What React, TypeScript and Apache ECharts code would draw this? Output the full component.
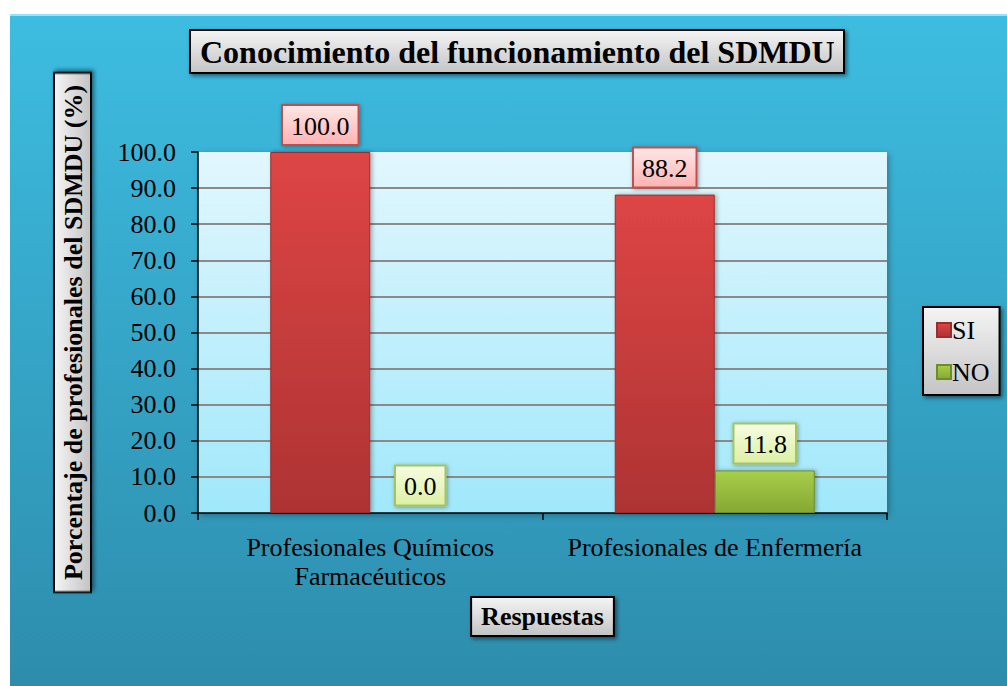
import React, { useEffect, useRef } from "react";
import * as echarts from "echarts";

const categories = ["Profesionales Químicos\nFarmacéuticos", "Profesionales de Enfermería"];
const seriesNames = ["SI", "NO"];
const siValues = [100.0, 88.2];
const noValues = [0.0, 11.8];
const yMin = 0;
const yMax = 100;
const yStep = 10;

const FONT = "Liberation Serif";

const lg = (c0: string, c1: string, horizontal = false) =>
  new echarts.graphic.LinearGradient(0, 0, horizontal ? 1 : 0, horizontal ? 0 : 1, [
    { offset: 0, color: c0 },
    { offset: 1, color: c1 },
  ]);

export default function App() {
  const ref = useRef<HTMLDivElement>(null);
  useEffect(() => {
    document.body.style.margin = "0";
    const chart = echarts.init(ref.current!, null, { renderer: "svg" });
    const grayBox = () => lg("#F4F4F4", "#C4C4C4");
    const splitColors = [] as string[];
    for (let v = yMin; v <= yMax; v += yStep) {
      splitColors.push(v === yMin || v === yMax ? "rgba(0,0,0,0)" : "#8A8A8A");
    }
    const labelCommon = {
      show: true,
      position: "top",
      distance: 8,
      fontFamily: FONT,
      fontSize: 26,
      color: "#000",
      padding: [7, 8, 5, 8],
      borderWidth: 2,
      shadowBlur: 4,
      shadowColor: "rgba(0,0,0,0.35)",
      shadowOffsetX: 1,
      shadowOffsetY: 1,
      formatter: (p: any) => Number(p.value).toFixed(1),
    };
    chart.setOption({
      animation: false,
      backgroundColor: "#ffffff",
      graphic: [
        {
          type: "rect",
          z: -10,
          shape: { x: 10, y: 14, width: 1010, height: 690 },
          style: { fill: lg("#3DBDE1", "#2D8BAB") },
          silent: true,
        },
        {
          type: "line",
          z: -9,
          shape: { x1: 10, y1: 15, x2: 1007, y2: 15 },
          style: { stroke: "#8FE6F8", lineWidth: 2 },
          silent: true,
        },
      ],
      title: {
        text: "Conocimiento del funcionamiento del SDMDU",
        left: 190,
        top: 30,
        padding: [6, 10, 5, 10],
        backgroundColor: grayBox(),
        borderColor: "#000",
        borderWidth: 2,
        shadowBlur: 4,
        shadowColor: "rgba(0,0,0,0.5)",
        shadowOffsetX: 2,
        shadowOffsetY: 2,
        textStyle: { fontFamily: FONT, fontSize: 32, fontWeight: "bold", color: "#000" },
      },
      legend: {
        orient: "vertical",
        left: 923,
        top: 307,
        data: seriesNames,
        itemWidth: 14,
        itemHeight: 14,
        itemGap: 16,
        padding: [10, 10, 10, 13],
        backgroundColor: grayBox(),
        borderColor: "#000",
        borderWidth: 2,
        shadowBlur: 4,
        shadowColor: "rgba(0,0,0,0.5)",
        shadowOffsetX: 2,
        shadowOffsetY: 2,
        icon: "rect",
        textStyle: { fontFamily: FONT, fontSize: 26, color: "#000", padding: [0, 0, 0, -4] },
      },
      grid: {
        left: 198,
        right: 120,
        top: 152,
        bottom: 173,
        show: true,
        backgroundColor: lg("#E2F7FD", "#A0E8FB"),
        borderWidth: 0,
        shadowBlur: 6,
        shadowColor: "rgba(0,0,0,0.3)",
        shadowOffsetX: 2,
        shadowOffsetY: 2,
      },
      xAxis: {
        type: "category",
        data: categories,
        name: "Respuestas",
        nameLocation: "middle",
        nameGap: 79,
        nameTextStyle: {
          fontFamily: FONT,
          fontSize: 26,
          fontWeight: "bold",
          color: "#000",
          verticalAlign: "top",
          padding: [6, 9, 5, 9],
          backgroundColor: grayBox(),
          borderColor: "#000",
          borderWidth: 2,
          shadowBlur: 4,
          shadowColor: "rgba(0,0,0,0.5)",
          shadowOffsetX: 2,
          shadowOffsetY: 2,
        },
        axisLine: { show: true, lineStyle: { color: "#000", width: 1.5 } },
        axisTick: { show: true, length: 7, lineStyle: { color: "#000", width: 1.5 } },
        axisLabel: {
          interval: 0,
          hideOverlap: false,
          fontFamily: FONT,
          fontSize: 26,
          color: "#000",
          lineHeight: 29,
          margin: 20,
        },
      },
      yAxis: {
        type: "value",
        min: yMin,
        max: yMax,
        interval: yStep,
        name: "Porcentaje de profesionales del SDMDU (%)",
        nameLocation: "middle",
        nameRotate: 90,
        nameGap: 108,
        nameTextStyle: {
          fontFamily: FONT,
          fontSize: 26,
          fontWeight: "bold",
          color: "#000",
          padding: [5, 11, 4, 11],
          backgroundColor: grayBox(),
          borderColor: "#000",
          borderWidth: 2,
          shadowBlur: 4,
          shadowColor: "rgba(0,0,0,0.5)",
          shadowOffsetX: 2,
          shadowOffsetY: 2,
        },
        axisLine: { show: true, lineStyle: { color: "#000", width: 1.5 } },
        axisTick: { show: true, length: 7, lineStyle: { color: "#000", width: 1.5 } },
        axisLabel: {
          fontFamily: FONT,
          fontSize: 26,
          color: "#000",
          margin: 22,
          formatter: (v: number) => v.toFixed(1),
        },
        splitLine: { show: true, lineStyle: { color: splitColors, width: 2 } },
      },
      series: [
        {
          name: seriesNames[0],
          type: "bar",
          data: siValues,
          barWidth: 100,
          barGap: "0%",
          itemStyle: {
            color: lg("#DE4545", "#AE3333"),
            borderColor: "#9A2E2E",
            borderWidth: 1,
            shadowBlur: 4,
            shadowColor: "rgba(0,0,0,0.3)",
            shadowOffsetX: 2,
          },
          label: {
            ...labelCommon,
            backgroundColor: lg("#FFE6E6", "#FFB3B3"),
            borderColor: "#C0504D",
          },
        },
        {
          name: seriesNames[1],
          type: "bar",
          data: noValues,
          barWidth: 100,
          barGap: "0%",
          itemStyle: {
            color: lg("#A8CE4A", "#86A834"),
            borderColor: "#6E8C2A",
            borderWidth: 1,
            shadowBlur: 4,
            shadowColor: "rgba(0,0,0,0.3)",
            shadowOffsetX: 2,
          },
          label: {
            ...labelCommon,
            backgroundColor: lg("#F6FCE0", "#DDF0A6"),
            borderColor: "#A6C45C",
          },
        },
      ],
    });
    return () => chart.dispose();
  }, []);
  return <div ref={ref} style={{ width: 1007, height: 686 }} />;
}
